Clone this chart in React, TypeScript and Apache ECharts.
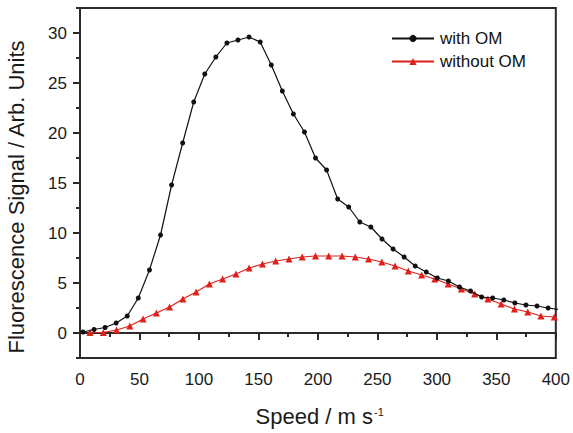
import React, { useEffect, useRef } from "react";
import * as echarts from "echarts";

const withOmX = [2.5, 11.8, 21.1, 30.4, 39.7, 49.0, 58.4, 67.7, 77.0, 86.3, 95.6, 104.9, 114.2, 123.5, 132.8, 142.1, 151.5, 160.8, 170.1, 179.4, 188.7, 198.0, 207.3, 216.6, 225.9, 235.2, 244.5, 253.9, 263.2, 272.5, 281.8, 291.1, 300.4, 309.7, 319.0, 328.3, 337.6, 346.9, 356.3, 365.6, 374.9, 384.2, 393.5, 402.8];
const withOmY = [0.1, 0.35, 0.55, 1.0, 1.7, 3.5, 6.3, 9.8, 14.8, 19.0, 23.1, 25.9, 27.6, 29.0, 29.3, 29.6, 29.1, 26.8, 24.2, 21.9, 20.1, 17.5, 16.3, 13.4, 12.6, 11.1, 10.6, 9.4, 8.4, 7.6, 6.7, 6.1, 5.5, 5.2, 4.6, 4.2, 3.6, 3.5, 3.3, 3.0, 2.8, 2.7, 2.5, 2.35];

const withoutOmX = [8.4, 19.6, 30.7, 41.9, 53.0, 64.2, 75.3, 86.5, 97.6, 108.8, 119.9, 131.1, 142.2, 153.4, 164.5, 175.7, 186.8, 198.0, 209.1, 220.3, 231.4, 242.6, 253.7, 264.9, 276.0, 287.2, 298.3, 309.5, 320.6, 331.8, 342.9, 354.1, 365.2, 376.4, 387.5, 398.7];
const withoutOmY = [0.05, 0.05, 0.3, 0.7, 1.4, 2.0, 2.6, 3.4, 4.1, 4.9, 5.4, 5.9, 6.5, 6.9, 7.2, 7.4, 7.6, 7.7, 7.7, 7.7, 7.6, 7.4, 7.1, 6.7, 6.2, 5.8, 5.4, 4.9, 4.4, 3.9, 3.4, 2.9, 2.4, 2.1, 1.7, 1.6];

const yTickValues = [0, 5, 10, 15, 20, 25, 30];
const xMin = 0;
const xMax = 400;
const xInterval = 50;
const yMin = -2.5;
const yMax = 32.5;
const yMinorInterval = 2.5;

const seriesNames = ["with OM", "without OM"];
const xTitle = "Speed / m s";
const xTitleSup = "-1";
const yTitle = "Fluorescence Signal / Arb. Units";

const FONT = 'Arial, "Liberation Sans", sans-serif';
const AXIS_COLOR = "#2b2b2b";

export default function App() {
  const ref = useRef<HTMLDivElement>(null);
  useEffect(() => {
    if (!ref.current) return;
    const chart = echarts.init(ref.current, undefined, { renderer: "svg" });
    const zip = (xs: number[], ys: number[]) => xs.map((x, i) => [x, ys[i]]);
    chart.setOption({
      animation: false,
      backgroundColor: "#fff",
      textStyle: { fontFamily: FONT },
      grid: {
        left: 80,
        right: 15,
        top: 8,
        bottom: 75,
        show: true,
        borderColor: AXIS_COLOR,
        borderWidth: 2,
        backgroundColor: "transparent",
      },
      legend: {
        orient: "vertical",
        left: 391,
        top: 30,
        padding: 0,
        itemWidth: 42,
        itemHeight: 9,
        itemGap: 6,
        textStyle: { fontSize: 17, color: "#111", fontFamily: FONT, padding: [0, 0, 0, 1] },
        data: seriesNames,
      },
      xAxis: {
        type: "value",
        min: xMin,
        max: xMax,
        interval: xInterval,
        axisLine: { lineStyle: { color: AXIS_COLOR, width: 2 } },
        axisTick: { length: 7, lineStyle: { color: AXIS_COLOR, width: 2 } },
        minorTick: { show: true, splitNumber: 2, length: 4, lineStyle: { color: AXIS_COLOR, width: 2 } },
        axisLabel: { fontSize: 17, color: "#1a1a1a", margin: 13, fontFamily: FONT },
        splitLine: { show: false },
      },
      yAxis: [
        {
          type: "value",
          min: yMin,
          max: yMax,
          axisLine: { show: true, lineStyle: { color: AXIS_COLOR, width: 2 } },
          axisTick: { show: true, length: 7, customValues: yTickValues, lineStyle: { color: AXIS_COLOR, width: 2 } },
          axisLabel: { fontSize: 17, color: "#1a1a1a", margin: 13, customValues: yTickValues, fontFamily: FONT },
          splitLine: { show: false },
        },
        {
          type: "value",
          position: "left",
          min: yMin,
          max: yMax,
          interval: yMinorInterval,
          axisLine: { show: false },
          axisTick: { show: true, length: 4, lineStyle: { color: AXIS_COLOR, width: 2 } },
          axisLabel: { show: false },
          splitLine: { show: false },
        },
      ],
      series: [
        {
          name: seriesNames[0],
          type: "line",
          data: zip(withOmX, withOmY),
          symbol: "circle",
          symbolSize: 5,
          clip: true,
          lineStyle: { color: "#111", width: 1.2 },
          itemStyle: { color: "#111" },
          z: 3,
        },
        {
          name: seriesNames[1],
          type: "line",
          data: zip(withoutOmX, withoutOmY),
          symbol: "triangle",
          symbolSize: 7,
          clip: true,
          lineStyle: { color: "#e0201b", width: 1.2 },
          itemStyle: { color: "#e0201b" },
          z: 2,
        },
      ],
      graphic: [
        {
          type: "text",
          x: 16,
          y: 197,
          rotation: Math.PI / 2,
          style: {
            text: yTitle,
            font: `22px ${FONT}`,
            fill: "#1a1a1a",
            align: "center",
            verticalAlign: "middle",
          },
        },
        {
          type: "text",
          x: 373,
          y: 416,
          style: {
            text: xTitle,
            font: `22px ${FONT}`,
            fill: "#1a1a1a",
            align: "right",
            verticalAlign: "middle",
          },
        },
        {
          type: "text",
          x: 374,
          y: 412,
          style: {
            text: xTitleSup,
            font: `11px ${FONT}`,
            fill: "#1a1a1a",
            align: "left",
            verticalAlign: "middle",
          },
        },
      ],
    });
    return () => chart.dispose();
  }, []);
  return (
    <div
      ref={ref}
      style={{ position: "absolute", left: 0, top: 0, width: 573, height: 433 }}
    />
  );
}
